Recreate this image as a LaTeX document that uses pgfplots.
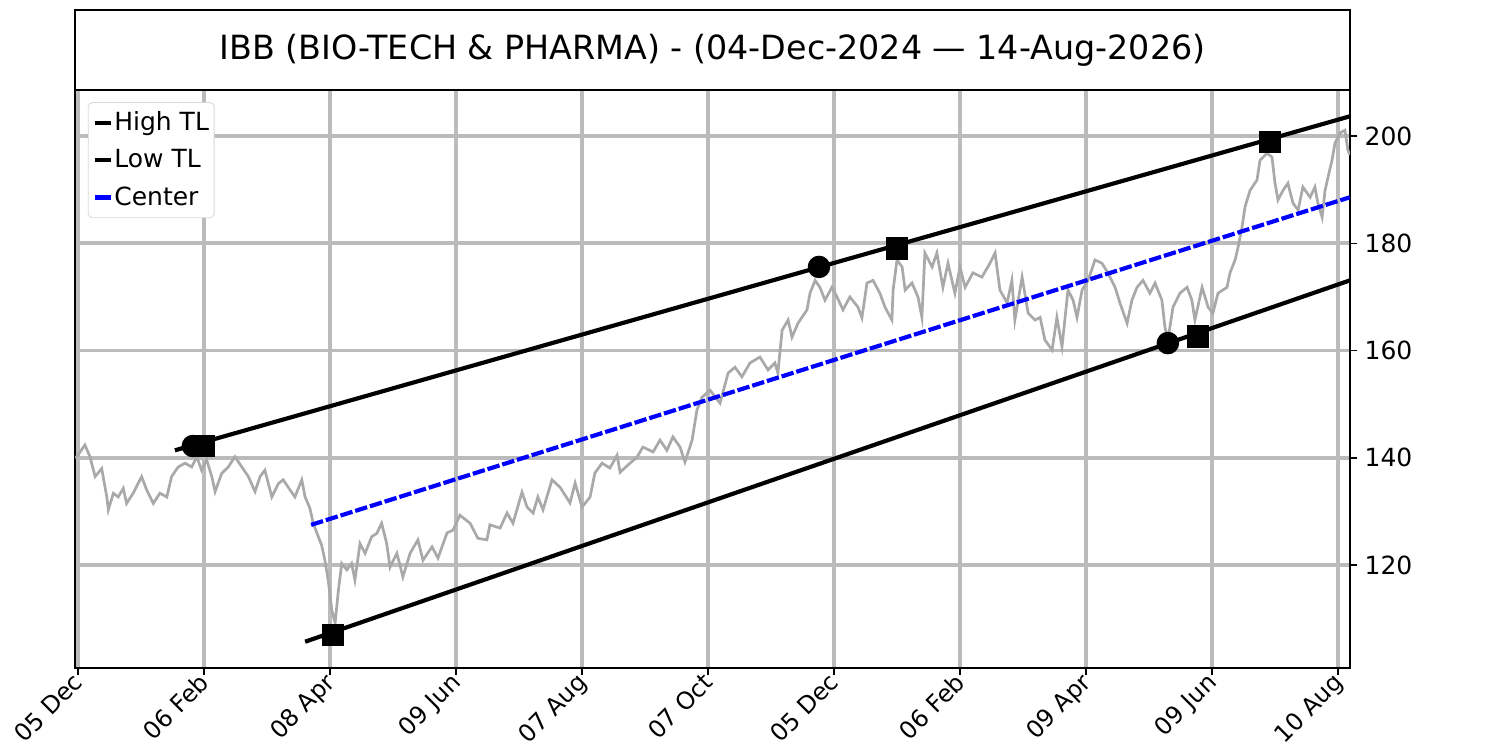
\documentclass[border=0pt]{standalone}
\usepackage{pgfplots}
\pgfplotsset{compat=1.18}
\usepackage{fontspec}
\setmainfont{DejaVu Sans}
\definecolor{gridgray}{HTML}{BBBBBB}
\definecolor{pricegray}{HTML}{A9A9A9}
\definecolor{centerblue}{HTML}{0000FF}
\begin{document}
\begin{tikzpicture}
\useasboundingbox (0,0) rectangle (720pt,360pt);
\begin{axis}[
  at={(36pt,39.36pt)}, anchor=south west,
  scale only axis, width=612pt, height=277.44pt,
  xmin=0, xmax=425, ymin=100.8, ymax=208.6,
  axis line style={line width=0.8pt},
  xtick={1,43,85,127,169,211,253,295,337,379,421},
  xticklabels={05 Dec,06 Feb,08 Apr,09 Jun,07 Aug,07 Oct,05 Dec,06 Feb,09 Apr,09 Jun,10 Aug},
  xticklabel style={xshift=-3pt, yshift=3.5pt, rotate=45, anchor=north east, font=\fontsize{11.5}{13}\selectfont, inner sep=1pt},
  ytick={120,140,160,180,200},
  yticklabel style={font=\fontsize{12}{14}\selectfont},
  /pgf/number format/assume math mode=true,
  xtick pos=bottom, ytick pos=right, yticklabel pos=right,
  tick align=outside, major tick length=3.5pt,
  tick style={black, line width=0.8pt},
  grid=major, grid style={gridgray, line width=1.8pt},
  legend style={at={(0.0101,0.979)}, anchor=north west, draw=black!15, rounded corners=2pt,
    font=\fontsize{12}{14}\selectfont, inner xsep=2pt, inner ysep=3.5pt, row sep=5.5pt,
    nodes={inner xsep=0.5pt, inner ysep=1pt}},
  legend cell align=left,
  legend image code/.code={\draw[#1, solid, line width=2pt] (0pt,0pt) -- (8pt,0pt);},
]
\addplot[pricegray, line width=1.3pt, forget plot] coordinates {
(0,140.1)(0.6,140.2)(3.3,142.4)(5,140.2)(6.7,136.5)(8.9,138.0)(10.6,132.7)(11.1,130.3)(12.8,133.4)(14.4,132.7)
(16.1,134.3)(17.2,131.5)(19.4,133.4)(22.2,136.5)(23.9,134.0)(26.1,131.5)(28.3,133.4)(30.6,132.7)(32.2,136.5)(34.4,138.3)
(36.7,139.0)(38.9,138.3)(40.6,140.2)(42.2,137.7)(43.9,139.6)(45.6,136.5)(46.7,133.7)(48.9,137.1)(51.1,138.3)(53.3,140.2)
(55.6,138.3)(57.8,136.5)(60,133.7)(61.7,136.5)(63.3,137.7)(65.6,132.7)(67.8,135.2)(69.4,135.9)(71.7,134.0)(73.3,132.7)
(75.6,135.9)(76.7,132.7)(78.3,130.6)(79.4,127.8)(81.1,125.3)(82.2,123.7)(83.3,120.9)(84.4,117.2)(85.6,111.6)(86.7,109.2)
(87.8,115.3)(88.9,120.3)(90.6,119.1)(92.2,120.3)(93.3,117.2)(95,124.0)(96.7,122.2)(98.9,125.3)(100.6,125.9)(102.2,127.8)
(103.9,124.0)(105,119.6)(107.3,122.2)(109.3,117.8)(111.7,122.2)(114.3,124.7)(116,120.9)(119,123.4)(121,121.3)(124,126.0)
(126,126.5)(128.3,129.3)(131.7,127.8)(134.3,125.0)(137.3,124.7)(138.3,127.5)(141.7,126.9)(144,129.7)(146,127.8)(149,133.6)
(150.7,130.8)(152.7,129.7)(154.3,132.7)(156,130.3)(159,135.9)(161.7,134.5)(165,131.6)(166.7,135.3)(169,130.8)(171.7,132.7)
(173.3,137.2)(175.7,139.0)(178.3,138.1)(180.7,140.5)(181.7,137.3)(185,139.0)(187.3,140.1)(189.3,142.0)(192.7,141.1)(195,143.3)
(197.3,141.4)(199.3,143.9)(201.7,142.0)(203.3,139.2)(205.7,143.3)(207.3,148.9)(209,151.3)(211.7,152.6)(215,150.2)(217.7,155.8)
(220,156.9)(222.3,155.1)(225,157.7)(228.3,158.8)(231,156.4)(233.3,157.7)(234.3,155.8)(235.7,163.8)(237.7,165.7)(239,162.5)
(241,165.1)(244,167.6)(245,170.7)(246.7,173.1)(248.3,171.8)(250,169.4)(252.3,171.8)(254,170.0)(256,167.6)(258.3,170.0)
(261,168.1)(262.3,166.1)(264,172.6)(266,173.1)(268.3,170.7)(270,168.1)(272.3,165.7)(272.7,171.3)(274,176.9)(275.7,175.6)
(276.7,171.3)(279,172.6)(281,170.0)(282.3,166.2)(283.3,178.2)(285.7,175.6)(287.3,178.2)(289.3,171.8)(291,176.3)(293.3,170.7)
(295,175.6)(296.7,171.8)(299.3,174.5)(302.3,173.7)(305,176.3)(306.7,178.2)(308.3,171.3)(310.7,168.9)(312.3,173.1)(313.3,165.7)
(315.7,173.7)(317.7,167.0)(320,165.7)(321.7,166.2)(323.3,162.0)(325.7,160.1)(327.3,166.2)(329,160.7)(331,171.3)(332.7,169.4)
(334,166.2)(335.7,171.3)(337.7,173.1)(340,176.9)(342.3,176.3)(344.3,174.5)(346.7,171.8)(348.3,168.9)(350.7,165.1)(352.3,169.4)
(354,171.8)(356,173.1)(358.3,170.7)(360,172.6)(362.3,169.4)(363.3,164.4)(364.3,162.0)(366,168.1)(368.3,170.7)(370.7,171.8)
(372.3,169.4)(373.3,165.7)(375.7,171.8)(377.7,168.1)(379.3,167.0)(381,170.7)(384,171.8)(385,174.5)(386.7,176.9)(387.7,179.3)
(389,183.0)(390,186.8)(391.7,189.9)(394,191.8)(395,195.5)(397.3,196.8)(399,196.1)(400,191.2)(401,188.1)(402.7,189.9)
(404.3,191.2)(406,187.5)(407.7,186.2)(409.3,190.5)(411.7,188.6)(413.3,190.5)(414.3,187.5)(415.7,184.9)(416.7,189.9)(417.7,192.4)
(419,195.5)(420,198.7)(421.7,200.6)(423.3,201.1)(424.3,197.4)(425,196.5)
};
\addplot[black, line width=2pt] coordinates {(33.3,141.4)(425,203.7)};
\addlegendentry{High TL}
\addplot[black, line width=2pt] coordinates {(76.7,105.7)(425,173.1)};
\addlegendentry{Low TL}
\addplot[centerblue, line width=2pt, dash pattern=on 6pt off 1.4pt] coordinates {(78.7,127.5)(425,188.6)};
\addlegendentry{Center}
\addplot[only marks, mark=*, mark size=5.2pt, mark options={fill=black, draw=black}, forget plot] coordinates {
(39.3,142.2)(248,175.6)(364.3,161.4)};
\addplot[only marks, mark=square*, mark size=5.2pt, mark options={fill=black, draw=black}, forget plot] coordinates {
(42.7,142.2)(274,179.1)(86,107)(374.3,162.7)(398.3,198.9)};
\end{axis}
\draw[line width=0.8pt] (36pt,316.8pt) rectangle (648pt,355.2pt);
\node[font=\fontsize{16}{19}\selectfont] at (342pt,336pt) {IBB (BIO-TECH \& PHARMA) - (04-Dec-2024 — 14-Aug-2026)};
\end{tikzpicture}
\end{document}
